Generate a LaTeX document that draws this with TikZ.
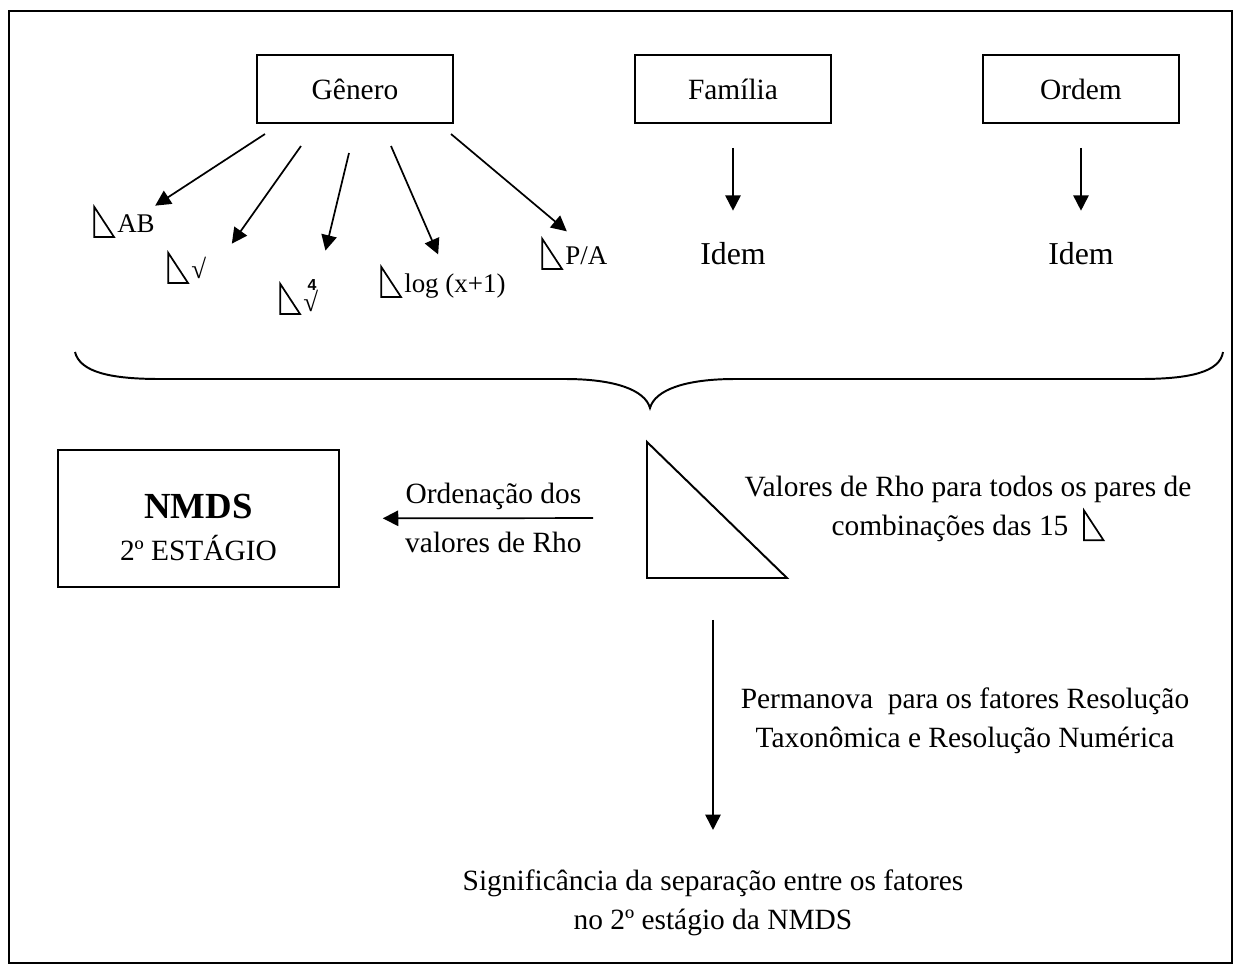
\documentclass[tikz,border=0pt]{standalone}
\usepackage{fontspec}
\setmainfont{Liberation Serif}
\setsansfont{Liberation Sans}
\usetikzlibrary{arrows.meta,positioning}
\newcommand{\tri}{\tikz[baseline=2pt]\draw[line width=0.7pt] (0pt,0pt) -- (0pt,12.2pt) -- (8pt,0pt) -- cycle;}
\newcommand{\qroot}{\makebox[0pt][l]{\raisebox{7.5pt}{\kern1.8pt\fontsize{6.5}{7}\selectfont\sffamily\bfseries 4}}\raisebox{-1pt}{√}}
\tikzset{
  box/.style ={draw, line width=0.8pt, minimum width=80pt, minimum height=27.7pt, inner sep=0pt, align=center, font=\fontsize{12}{14}\selectfont},
  lbl/.style ={inner sep=0pt, font=\fontsize{11}{13}\selectfont},
  idem/.style={inner sep=0pt, font=\fontsize{13}{15}\selectfont},
  note/.style={align=center, inner sep=0pt, font=\fontsize{12}{15.8}\selectfont},
  arr/.style ={-{Triangle[length=6.3pt,width=6.3pt]}, line width=0.7pt},
  frm/.style ={line width=0.8pt},
}

\begin{document}
\begin{tikzpicture}[x=0.408pt, y=-0.408pt]
  \useasboundingbox (0,0) rectangle (1234,972);
  \draw[frm] (9,11) rectangle (1232,963);
  % taxonomic levels
  \node[box] (gen) at (355,89)  {Gênero};
  \node[box] (fam) at (733,89)  {Família};
  \node[box] (ord) at (1081,89) {Ordem};
  \node[idem, below=48pt of fam] (idemF) {Idem};
  \node[idem, below=48pt of ord] (idemO) {Idem};
  \draw[arr, shorten <=9.8pt, shorten >=12.6pt] (fam) -- (idemF);
  \draw[arr, shorten <=9.8pt, shorten >=12.6pt] (ord) -- (idemO);
  % numerical resolutions (genus)
  \node[lbl, anchor=base west] (ab) at (93,232)  {\tri\kern1pt AB};
  \node[lbl, anchor=base west] (sq) at (167,278) {\tri\kern1pt √};
  \node[lbl, anchor=base west] (qr) at (279,309) {\tri\kern1pt\qroot};
  \node[lbl, anchor=base west] (lg) at (380,292) {\tri\kern1pt log (x+1)};
  \node[lbl, anchor=base west] (pa) at (541,264) {\tri\kern1pt P/A};
  \coordinate (g1) at (265,134);
  \coordinate (g2) at (301,146);
  \coordinate (g3) at (349,153);
  \coordinate (g4) at (391,146);
  \coordinate (g5) at (451,134);
  \draw[arr] (g1) -- (ab.north east);
  \draw[arr, shorten >=4pt] (g2) -- ([xshift=8pt]sq.north east);
  \draw[arr, shorten >=12pt] (g3) -- (qr.north east);
  \draw[arr, shorten >=5pt] (g4) -- (lg.north);
  \draw[arr, shorten >=4pt] (g5) -- (pa.north);
  % brace
  \draw[frm] (75,352) .. controls (80,372) and (110,379) .. (160,379) -- (565,379)
    .. controls (615,379) and (645,390) .. (650,408)
    .. controls (655,390) and (685,379) .. (735,379) -- (1140,379)
    .. controls (1190,379) and (1220,372) .. (1223,352);
  % rho matrix
  \draw[frm] (647,442) -- (647,578) -- (787,578) -- cycle;
  \coordinate (rhoL) at (647,518);
  \coordinate (rhoB) at (713,578);
  \node[note] (vals) at (968,509) {Valores de Rho para todos os pares de\\combinações das 15~~\tri};
  % second stage
  \node[box, minimum width=114.6pt, minimum height=55.9pt] (nmds) at (198.5,518.5)
    {\rule{0pt}{17pt}{\fontsize{15}{17}\selectfont\bfseries NMDS}\\[3pt]2º ESTÁGIO};
  \draw[arr, shorten <=22pt, shorten >=17.5pt] (rhoL) -- node[note, font=\fontsize{12}{20}\selectfont] (ord2) {Ordenação dos\\valores de Rho} (nmds);
  \node[note, below=119pt of rhoB] (sig) {Significância da separação entre os fatores\\no 2º estágio da NMDS};
  \draw[arr, shorten <=17.1pt, shorten >=16.2pt] (rhoB) -- node[note, right=11pt, pos=0.49] (perm) {Permanova~ para os fatores Resolução\\Taxonômica e Resolução Numérica} (sig);
\end{tikzpicture}
\end{document}
